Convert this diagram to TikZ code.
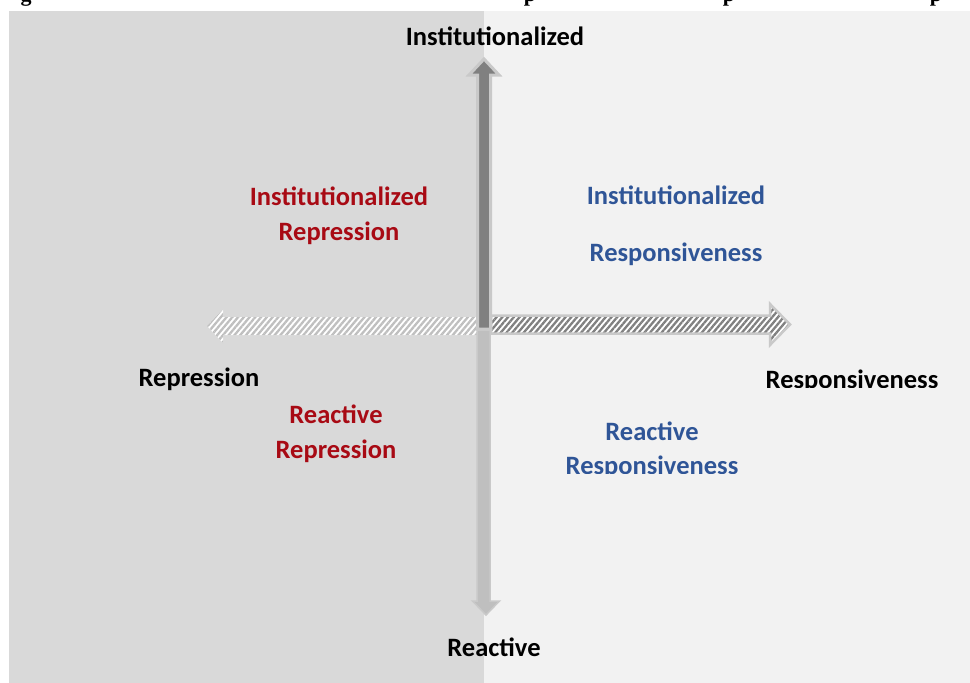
\documentclass[tikz,border=0pt]{standalone}
\usepackage{fontspec}
\setmainfont{Carlito}
\newfontfamily\capfont{Liberation Serif}
\usetikzlibrary{patterns.meta}
\definecolor{panelL}{HTML}{D9D9D9}
\definecolor{panelR}{HTML}{F2F2F2}
\definecolor{repred}{HTML}{A80A14}
\definecolor{resblue}{HTML}{2F5597}
\definecolor{shaftdark}{HTML}{808080}
\definecolor{shaftlight}{HTML}{BFBFBF}
\definecolor{rimgray}{HTML}{C9C9C9}
\tikzset{
  lbl/.style={font=\bfseries\fontsize{26.5}{32}\selectfont, inner sep=0pt, anchor=base},
  axislbl/.style={lbl, text=black},
  replbl/.style={lbl, text=repred},
  reslbl/.style={lbl, text=resblue},
  caplbl/.style={font=\capfont\bfseries\fontsize{22}{26}\selectfont, inner sep=0pt, anchor=base},
  hatchdark/.style={preaction={fill=white}, pattern={Lines[angle=50,distance=4.4pt,line width=2.3pt]}, pattern color=shaftdark},
  hatchlight/.style={preaction={fill=white}, pattern={Lines[angle=50,distance=4.4pt,line width=2.3pt]}, pattern color=shaftlight},
}
\begin{document}
\begin{tikzpicture}[x=1pt,y=-1pt]
\useasboundingbox (0,0) rectangle (970,683);
\fill[white] (0,0) rectangle (970,683);

% caption line above the chart, cut off by the page edge
\begin{scope}
  \clip (0,0) rectangle (970,10);
  \node[caplbl] (capg) at (26,1) {g};
  \node[caplbl] (capp1) at (530,1) {p};
  \node[caplbl] (capp2) at (729,1) {p};
  \node[caplbl] (capp3) at (936,1) {p};
\end{scope}

% the two halves of the chart
\fill[panelL] (9,11) rectangle (484,683);
\fill[panelR] (484,11) rectangle (970,683);

% axis end points
\coordinate (O) at (484,326);
\coordinate (topTip) at (484,59);
\coordinate (botTip) at (486,615);
\coordinate (leftTip) at (207,326);
\coordinate (rightTip) at (790,324.5);

% left arrow: Repression
\path[hatchlight]
  (477,317) -- (223,317) -- (223,309) -- (leftTip) -- (223,343) -- (223,335) -- (477,335) -- cycle;

% right arrow: Responsiveness
\path[hatchdark, draw=rimgray, line width=2.5pt, line join=miter]
  (491,315.5) -- (770,315.5) -- (770,304) -- (rightTip) -- (770,345) -- (770,333.5) -- (491,333.5) -- cycle;

% lower arrow: Reactive
\path[fill=shaftlight, draw=rimgray, line width=1.5pt]
  (477,330) -- (477,601) -- (472.5,601) -- (botTip) -- (499.5,601) -- (490,601) -- (490,330) -- cycle;

% upper arrow: Institutionalized
\path[fill=shaftdark, draw=rimgray, line width=3pt]
  (477.5,329) -- (477.5,75) -- (469,75) -- (topTip) -- (499,75) -- (490.5,75) -- (490.5,329) -- cycle;

% axis labels
\node[axislbl] (instTop) at (495,45.5) {Institutionalized};
\node[axislbl] (reacBot) at (494,656.5) {Reactive};
\node[axislbl] (repLeft) at (199,386.5) {Repression};
\begin{scope}
  \clip (700,360) rectangle (970,387);
  \node[axislbl] (resRight) at (852,388.5) {Responsiveness};
\end{scope}

% quadrant labels
\node[replbl] (instRep1) at (339,205.5) {Institutionalized};
\node[replbl] (instRep2) at (339,240.5) {Repression};
\node[reslbl] (instRes1) at (676,204.5) {Institutionalized};
\node[reslbl] (instRes2) at (676,261.5) {Responsiveness};
\node[replbl] (reacRep1) at (336,423.5) {Reactive};
\node[replbl] (reacRep2) at (336,458.5) {Repression};
\node[reslbl] (reacRes1) at (652,440.5) {Reactive};
\begin{scope}
  \clip (540,445) rectangle (780,473);
  \node[reslbl] (reacRes2) at (652,474.5) {Responsiveness};
\end{scope}
\end{tikzpicture}
\end{document}
